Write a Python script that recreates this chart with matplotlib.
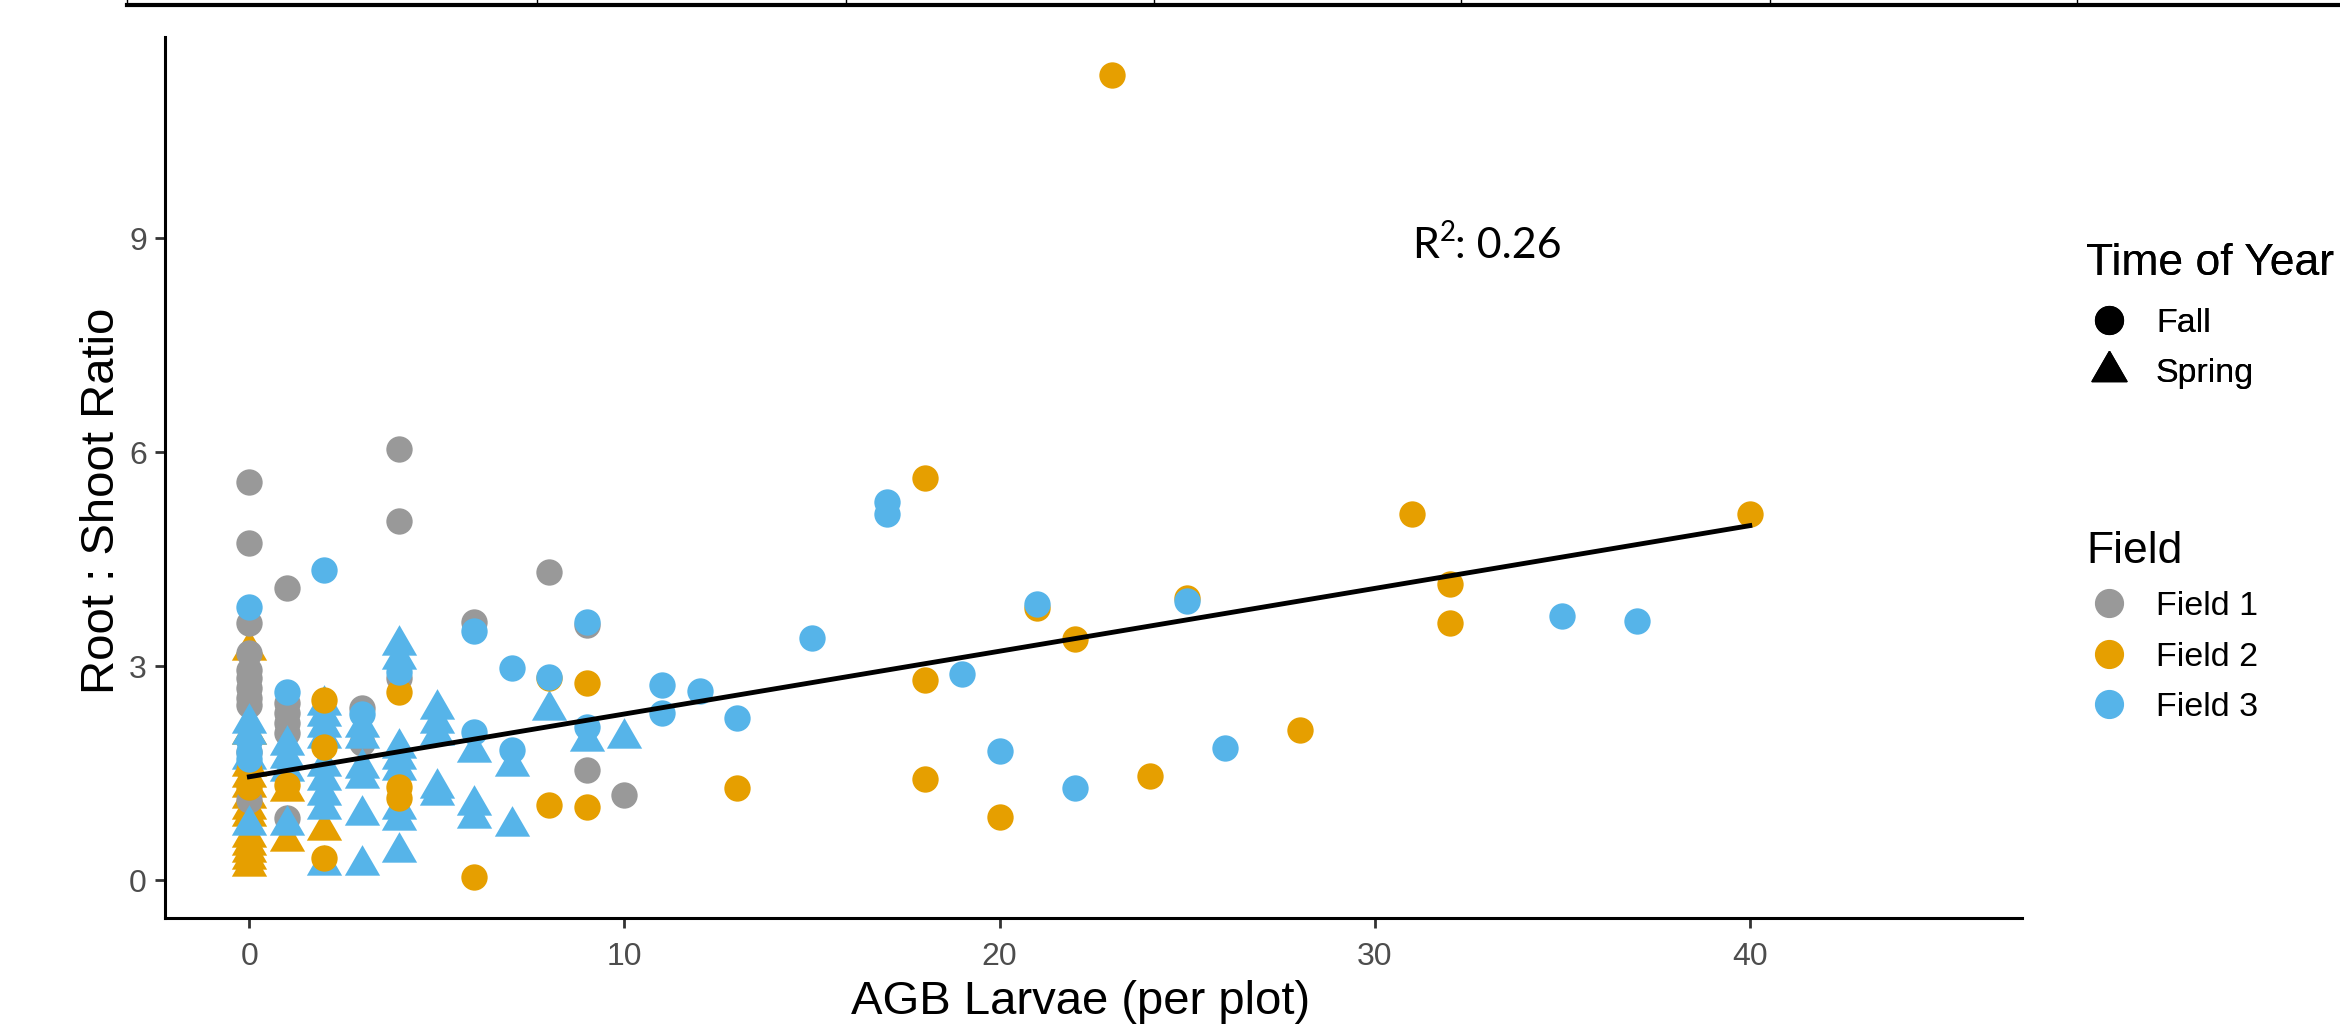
import numpy as np
import matplotlib
matplotlib.use("Agg")
import matplotlib.pyplot as plt
from matplotlib.lines import Line2D

plt.rcParams['font.family'] = ['Liberation Sans', 'DejaVu Sans']

# colours per field
field_names = ['Field 1', 'Field 2', 'Field 3']
field_colors = ['#999999', '#E69F00', '#56B4E9']

# Field 1, Fall
f1_fall_x = [0, 0, 0, 0, 0, 0, 0, 0, 0, 0, 0,
             1, 1, 1, 1, 1, 1, 3, 3, 4, 4, 4, 6, 8, 9, 9, 10]
f1_fall_y = [5.58, 4.72, 3.60, 3.18, 2.95, 2.83, 2.69, 2.55, 2.45, 1.80, 1.12,
             4.09, 2.49, 2.34, 2.20, 2.06, 0.87, 2.41, 1.93, 6.05, 5.03, 2.83,
             3.62, 4.32, 3.58, 1.55, 1.20]

# Field 2, Fall
f2_fall_x = [0, 0, 1, 2, 2, 2, 4, 4, 4, 6, 8, 8, 9, 9, 13, 18, 18, 18,
             20, 21, 22, 23, 24, 25, 28, 31, 32, 32, 40]
f2_fall_y = [1.55, 1.31, 1.33, 2.52, 1.87, 0.31, 2.64, 1.31, 1.15, 0.05,
             2.83, 1.05, 2.76, 1.03, 1.29, 5.64, 2.81, 1.42, 0.88, 3.81,
             3.38, 11.29, 1.46, 3.95, 2.10, 5.13, 4.15, 3.60, 5.13]

# Field 2, Spring
f2_spr_x = [0, 0, 0, 0, 0, 0, 0, 0, 0, 0, 0, 0, 0, 1, 1, 2]
f2_spr_y = [3.23, 2.05, 1.60, 1.45, 1.30, 1.15, 1.00, 0.90, 0.60, 0.50,
            0.40, 0.30, 0.20, 1.25, 0.55, 0.70]

# Field 3, Fall
f3_fall_x = [0, 0, 0, 0, 1, 2, 3, 4, 6, 6, 7, 7, 8, 9, 9, 11, 11, 12, 13,
             15, 17, 17, 19, 20, 21, 22, 25, 26, 35, 37]
f3_fall_y = [3.83, 1.95, 1.80, 1.70, 2.64, 4.35, 2.33, 2.92, 3.49, 2.08,
             2.97, 1.83, 2.85, 3.62, 2.15, 2.74, 2.35, 2.65, 2.28, 3.40,
             5.30, 5.14, 2.89, 1.81, 3.87, 1.29, 3.92, 1.85, 3.71, 3.63]

# Field 3, Spring
f3_spr_x = [0, 0, 0, 0, 1, 1, 1, 1, 2, 2, 2, 2, 2, 2, 2, 2, 2,
            3, 3, 3, 3, 3, 3, 4, 4, 4, 4, 4, 4, 4, 4,
            5, 5, 5, 5, 5, 6, 6, 6, 7, 7, 8, 9, 10]
f3_spr_y = [2.20, 2.05, 1.70, 0.77, 1.90, 1.71, 1.53, 0.77,
            2.45, 2.30, 2.15, 2.00, 1.60, 1.40, 1.20, 1.00, 0.21,
            2.15, 2.00, 1.57, 1.43, 0.91, 0.21,
            3.30, 3.10, 1.85, 1.70, 1.55, 1.00, 0.85, 0.40,
            2.40, 2.20, 2.03, 1.29, 1.20, 1.80, 1.05, 0.87, 1.60, 0.76,
            2.38, 1.95, 1.99]

# fitted line end points
fit_x = [0, 40]
fit_y = [1.45, 4.97]
r2_value = ': 0.26'

x_ticks = [0, 10, 20, 30, 40]
y_ticks = [0, 3, 6, 9]

# equilateral triangle like R pch 17
tri = [(0, 1.0), (-0.866, -0.5), (0.866, -0.5), (0, 1.0)]

fig = plt.figure(figsize=(23.4, 10.24), dpi=100)
ax = fig.add_axes([0.0705, 0.1035, 0.7935, 0.8604])

s_circ = 360
s_tri = 860
ax.scatter(f2_spr_x, f2_spr_y, s=s_tri, marker=tri, color=field_colors[1], linewidths=0, zorder=2)
ax.scatter(f1_fall_x, f1_fall_y, s=s_circ, marker='o', color=field_colors[0], linewidths=0, zorder=2)
ax.scatter(f3_spr_x, f3_spr_y, s=s_tri, marker=tri, color=field_colors[2], linewidths=0, zorder=2)
ax.scatter(f2_fall_x, f2_fall_y, s=s_circ, marker='o', color=field_colors[1], linewidths=0, zorder=2)
ax.scatter(f3_fall_x, f3_fall_y, s=s_circ, marker='o', color=field_colors[2], linewidths=0, zorder=2)

ax.plot(fit_x, fit_y, color='black', lw=3.5, zorder=3)

ax.set_xlim(-2.25, 47.25)
ax.set_ylim(-0.53, 11.82)
ax.set_xticks(x_ticks)
ax.set_yticks(y_ticks)
for sp in ['top', 'right']:
    ax.spines[sp].set_visible(False)
for sp in ['left', 'bottom']:
    ax.spines[sp].set_linewidth(2.2)
    ax.spines[sp].set_color('black')
ax.tick_params(length=7, width=2.0, color='#333333', labelcolor='#4D4D4D',
               labelsize=23)
ax.tick_params(axis='x', pad=10)
ax.tick_params(axis='y', pad=6)
ax.set_xlabel('AGB Larvae (per plot)', fontsize=34, labelpad=6)
ax.set_ylabel('Root : Shoot Ratio', fontsize=34, labelpad=4)
ax.xaxis.label.set_x(0.493)
ax.yaxis.label.set_y(0.473)

# R squared label: R, raised 2, then the value
t_r = fig.text(1412 / 2340, 1 - 258 / 1024, 'R', fontsize=31,
               family=['Lato', 'DejaVu Sans'], va='baseline', ha='left')
t_sup = ax.annotate('2', xy=(1.02, 0.5), xycoords=t_r, fontsize=20,
                    family=['Lato', 'DejaVu Sans'], ha='left', va='bottom')
ax.annotate(r2_value, xy=(1.0, 0.0), xycoords=(t_sup, t_r), fontsize=31,
            family=['Lato', 'DejaVu Sans'], ha='left', va='bottom')

# legends
leg_kw = dict(loc='upper left', frameon=False, borderpad=0, borderaxespad=0,
              fontsize=24.5, handlelength=1.35, handletextpad=0.7,
              labelspacing=0.57, alignment='left')
time_handles = [Line2D([], [], marker='o', color='black', linestyle='None', markersize=20),
                Line2D([], [], marker=tri, color='black', linestyle='None', markersize=29)]
leg1 = fig.legend(time_handles, ['Fall', 'Spring'], title='Time of Year',
                  bbox_to_anchor=(2086 / 2340, 1 - 243 / 1024),
                  title_fontproperties={'size': 32}, **leg_kw)
leg1._legend_box.sep = 17.3
field_handles = [Line2D([], [], marker='o', color=c, linestyle='None', markersize=20)
                 for c in field_colors]
leg2 = fig.legend(field_handles, field_names, title='Field',
                  bbox_to_anchor=(2086 / 2340, 1 - 531 / 1024),
                  title_fontproperties={'size': 32}, **leg_kw)
fig.add_artist(leg1)

# table border at the top of the page
fig.add_artist(Line2D([127 / 2340, 1], [1 - 5 / 1024, 1 - 5 / 1024],
                      transform=fig.transFigure, color='black', lw=3))
for xp in [127, 537, 846, 1154, 1461, 1770, 2077]:
    fig.add_artist(Line2D([xp / 2340, xp / 2340], [1 - 5 / 1024, 1],
                          transform=fig.transFigure, color='black', lw=1))

fig.savefig('out.png', dpi=100)
